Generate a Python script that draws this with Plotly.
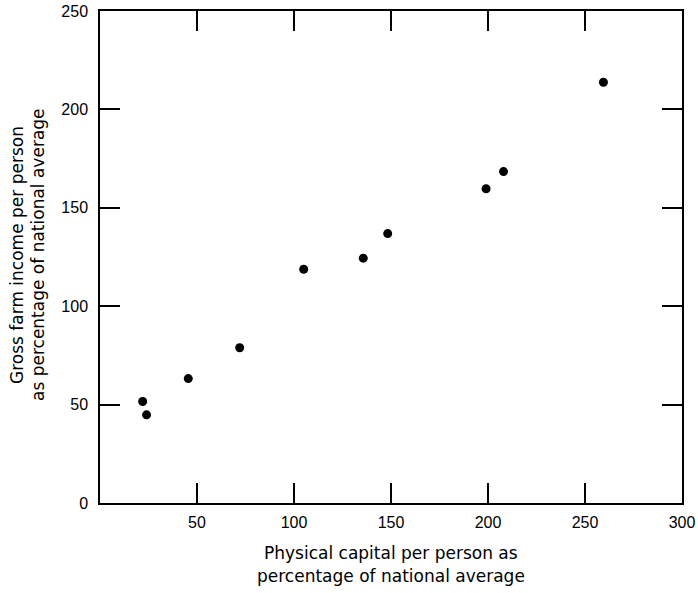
import plotly.graph_objects as go

capital = [22, 24, 45.5, 72, 105, 135.7, 148.3, 199, 208, 259.5]
income = [51.6, 44.8, 63.2, 78.9, 118.8, 124.4, 136.9, 159.7, 168.4, 213.8]

x_ticks = [0, 50, 100, 150, 200, 250, 300]
x_ticktext = ["", "50", "100", "150", "200", "250", "300"]
y_ticks = [0, 50, 100, 150, 200, 250]

x_title = ["Physical capital per person as", "percentage of national average"]
y_title = ["Gross farm income per person", "as percentage of national average"]

fig = go.Figure()
fig.add_trace(go.Scatter(
    x=capital, y=income, mode="markers",
    marker=dict(color="black", size=9, symbol="circle"),
    showlegend=False,
))

tick_font = dict(size=16, family="Liberation Sans, Arial, sans-serif", color="black")
title_font = dict(size=17, family="DejaVu Sans, sans-serif", color="black")

axis_common = dict(
    showgrid=False, zeroline=False,
    showline=True, linecolor="black", linewidth=1.5, mirror="all",
    ticks="inside", ticklen=20, tickwidth=1.5, tickcolor="black",
    tickfont=tick_font, automargin=False,
)

fig.update_layout(
    width=698, height=593,
    margin=dict(l=100, r=16, t=11, b=90),
    paper_bgcolor="white", plot_bgcolor="white",
    xaxis=dict(range=[0, 300], tickvals=x_ticks, ticktext=x_ticktext,
               ticklabelstandoff=4, **axis_common),
    yaxis=dict(range=[0, 250], tickvals=y_ticks,
               ticklabelstandoff=7, **axis_common),
)

for i, line in enumerate(x_title):
    fig.add_annotation(text=line, xref="paper", yref="paper", x=0.5, y=0,
                       xanchor="center", yanchor="middle", showarrow=False,
                       yshift=-50 - 23 * i, font=title_font)
for i, line in enumerate(y_title):
    fig.add_annotation(text=line, xref="paper", yref="paper", x=0, y=0.5,
                       xanchor="center", yanchor="middle", showarrow=False,
                       textangle=-90, xshift=-83 + 21 * i, yshift=2,
                       font=title_font)

fig.write_html("out.html",
               config={"displayModeBar": False},
               post_script="document.body.style.margin='0';")
